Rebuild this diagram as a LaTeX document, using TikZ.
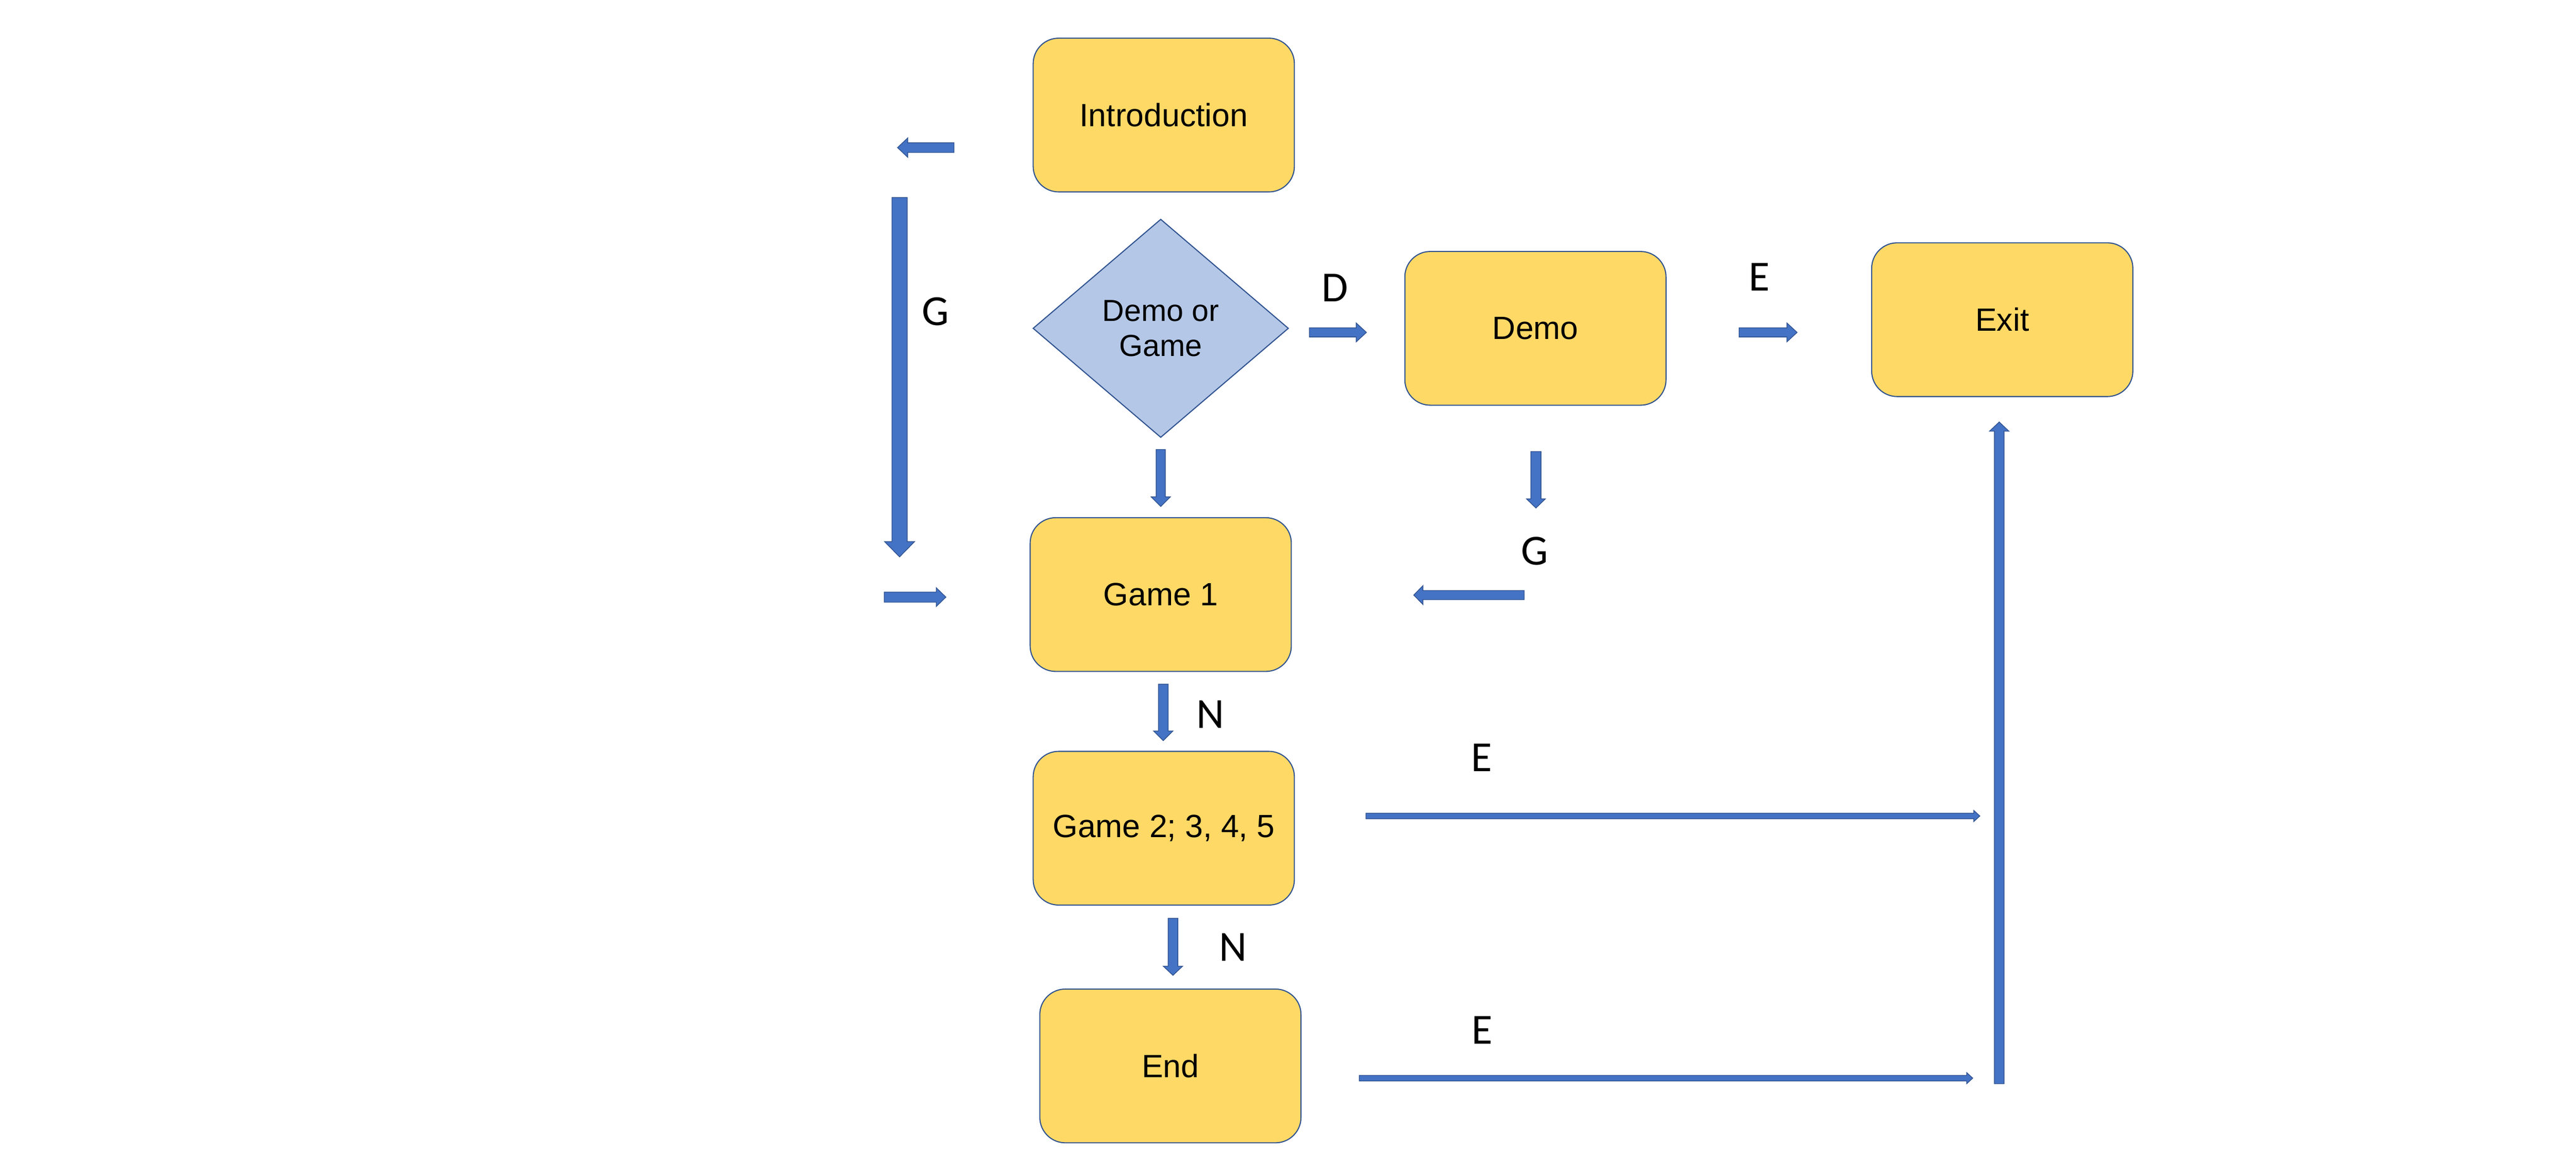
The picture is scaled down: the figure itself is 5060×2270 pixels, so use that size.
\documentclass[tikz,border=0pt]{standalone}
\usepackage{fontspec}
\setmainfont{Liberation Sans}
\newfontfamily\lblfont{Carlito}
\usetikzlibrary{shapes.geometric}
\definecolor{boxfill}{HTML}{FFD966}
\definecolor{boxline}{HTML}{2F528F}
\definecolor{diafill}{HTML}{B4C7E7}
\definecolor{arrfill}{HTML}{4472C4}
\definecolor{arrline}{HTML}{2F528F}
% horizontal block arrow: tail x, tip x, head-base x, y, shaft half, head half
\newcommand\harr[6]{\filldraw[blockarrow] ({#1},{#4-#5}) -- ({#3},{#4-#5}) -- ({#3},{#4-#6}) -- ({#2},{#4}) -- ({#3},{#4+#6}) -- ({#3},{#4+#5}) -- ({#1},{#4+#5}) -- cycle;}
% vertical block arrow: x, tail y, tip y, head-base y, shaft half, head half
\newcommand\varr[6]{\filldraw[blockarrow] ({#1-#5},{#2}) -- ({#1-#5},{#4}) -- ({#1-#6},{#4}) -- ({#1},{#3}) -- ({#1+#6},{#4}) -- ({#1+#5},{#4}) -- ({#1+#5},{#2}) -- cycle;}
\begin{document}
\begin{tikzpicture}[x=0.1mm,y=-0.1mm,
  box/.style={draw=boxline, line width=0.6pt, fill=boxfill, rounded corners=5mm,
    minimum width=51.3mm, minimum height=30.2mm, inner sep=0pt,
    font=\fontsize{18}{21}\selectfont, text=black},
  decision/.style={diamond, draw=boxline, line width=0.6pt, fill=diafill,
    minimum width=50.2mm, minimum height=42.9mm, inner sep=0pt, align=center,
    font=\fontsize{17}{19.6}\selectfont, text=black},
  blockarrow/.style={fill=arrfill, draw=arrline, line width=0.4pt},
  lbl/.style={font=\lblfont\fontsize{24}{28}\selectfont, text=black, inner sep=0pt}]
\fill[white] (0,0) rectangle (5060,2270);
\useasboundingbox (0,0) rectangle (5060,2270);

% nodes
\node[box] (intro) at (2286,226) {Introduction};
\node[decision] (choice) at (2280,645) {Demo or\\Game};
\node[box] (demo) at (3016,645) {Demo};
\node[box] (exit) at (3933,628) {Exit};
\node[box] (game1) at (2280,1168) {Game 1};
\node[box] (game2) at (2286,1627) {Game 2; 3, 4, 5};
\node[box] (end) at (2299,2094) {End};

% block arrows
\harr{1874}{1763}{1783}{290}{9.5}{19}
\varr{1767}{388}{1094}{1064}{15}{29.5}
\harr{1737}{1858}{1839}{1173}{10}{18.5}
\varr{2280}{883}{995}{976}{9}{19}
\harr{2572}{2684}{2664}{653}{9}{18.5}
\harr{3416}{3530}{3510}{653}{9}{18.5}
\varr{3017}{887}{998}{980}{10}{18.5}
\harr{2994}{2777}{2795}{1169}{9}{18.5}
\varr{2285}{1344}{1455}{1436}{9.5}{19}
\varr{2304}{1804}{1916}{1898}{9.5}{19}
\harr{2683}{3889}{3877}{1603}{5.5}{11}
\harr{2670}{3875}{3863}{2118}{5.5}{11}
\varr{3927}{2129}{829}{847}{9.5}{19}

% labels
\node[lbl] (lg1) at (1838,612) {G};
\node[lbl] (ld) at (2622,565) {D};
\node[lbl] (le1) at (3456,544) {E};
\node[lbl] (lg2) at (3015,1083) {G};
\node[lbl] (ln1) at (2378,1403) {N};
\node[lbl] (ln2) at (2422,1861) {N};
\node[lbl] (le2) at (2910,1488) {E};
\node[lbl] (le3) at (2911,2024) {E};
\end{tikzpicture}
\end{document}
